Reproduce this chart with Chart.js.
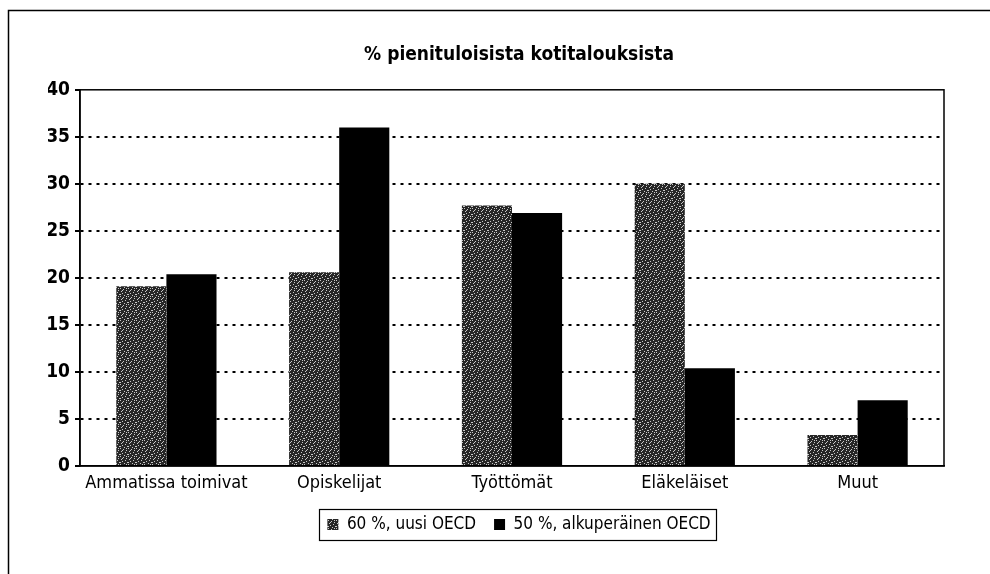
<!DOCTYPE html>
<html>
<head>
<meta charset="utf-8">
<script src="https://cdn.jsdelivr.net/npm/chart.js@4/dist/chart.umd.min.js"></script>
<style>
html,body{margin:0;padding:0;background:#fff;}
#wrap{width:990px;height:574px;position:relative;}
</style>
</head>
<body>
<div id="wrap"><canvas id="c" width="990" height="574"></canvas></div>
<script>
const categories = ["Ammatissa toimivat", "Opiskelijat", "Työttömät", "Eläkeläiset", "Muut"];
const seriesNames = ["60 %, uusi OECD", "50 %, alkuperäinen OECD"];
const valuesNew = [19.1, 20.6, 27.7, 30.0, 3.3];
const valuesOrig = [20.4, 36.0, 26.9, 10.4, 7.0];
const yTicks = [0, 5, 10, 15, 20, 25, 30, 35, 40];
const titleText = "% pienituloisista kotitalouksista";

const FONT = '"Liberation Sans Narrow", "DejaVu Sans Condensed", "Liberation Sans", sans-serif';

// deterministic speckle pattern for the grey series
function makePattern() {
  const t = document.createElement('canvas');
  t.width = 8; t.height = 8;
  const g = t.getContext('2d');
  g.fillStyle = '#262626';
  g.fillRect(0, 0, 8, 8);
  g.fillStyle = '#c8c8c8';
  const pts = [[0,0],[3,1],[6,2],[1,3],[5,4],[2,5],[7,6],[4,7],[6,0],[2,2],[0,6]];
  pts.forEach(p => g.fillRect(p[0], p[1], 1, 1));
  return g.createPattern(t, 'repeat');
}
const ctx0 = document.getElementById('c').getContext('2d');
const greyFill = makePattern();

const framePlugin = {
  id: 'frame',
  beforeDraw(chart) {
    const c = chart.ctx;
    c.save();
    c.strokeStyle = '#000';
    c.lineWidth = 1.5;
    c.beginPath();
    c.moveTo(8.5, 580);
    c.lineTo(8.5, 10.5);
    c.lineTo(995, 10.5);
    c.stroke();
    c.restore();
  },
  afterDatasetsDraw(chart) {
    const a = chart.chartArea;
    const c = chart.ctx;
    c.save();
    c.strokeStyle = '#000';
    c.lineWidth = 1.5;
    c.setLineDash([]);
    c.strokeRect(a.left, a.top, a.right - a.left, a.bottom - a.top);
    c.restore();
  },
  afterDraw(chart) {
    const lg = chart.legend;
    if (!lg || !lg.legendHitBoxes || !lg.legendHitBoxes.length) return;
    let l = Infinity, r = -Infinity, t = Infinity, b = -Infinity;
    lg.legendHitBoxes.forEach(h => {
      l = Math.min(l, h.left); r = Math.max(r, h.left + h.width);
      t = Math.min(t, h.top); b = Math.max(b, h.top + h.height);
    });
    const c = chart.ctx;
    c.save();
    c.strokeStyle = '#000';
    c.lineWidth = 1.2;
    c.strokeRect(Math.round(l - 8) + 0.5, Math.round(t - 7) + 0.5, Math.round(r - l + 14), Math.round(b - t + 14));
    c.restore();
  }
};

new Chart(ctx0, {
  type: 'bar',
  data: {
    labels: categories,
    datasets: [
      { label: seriesNames[0], data: valuesNew, backgroundColor: greyFill, borderWidth: 0 },
      { label: seriesNames[1], data: valuesOrig, backgroundColor: '#000', borderWidth: 0 }
    ]
  },
  options: {
    responsive: false,
    animation: false,
    events: [],
    devicePixelRatio: 1,
    layout: { padding: { top: 10, left: 48, right: 0, bottom: 31 } },
    datasets: { bar: { categoryPercentage: 0.58, barPercentage: 1.0 } },
    plugins: {
      tooltip: { enabled: false },
      title: {
        display: true,
        text: titleText,
        color: '#000',
        font: { family: FONT, size: 19, weight: 'bold' },
        padding: { top: 34, bottom: 23 }
      },
      legend: {
        position: 'bottom',
        labels: {
          color: '#000',
          font: { family: FONT, size: 17 },
          boxWidth: 11,
          boxHeight: 11,
          padding: 18
        }
      }
    },
    scales: {
      x: {
        grid: { display: false, drawTicks: false, tickLength: 0 },
        border: { display: true, color: '#000', width: 1.5 },
        ticks: { color: '#000', font: { family: FONT, size: 18 }, padding: 7, maxRotation: 0 },
        afterFit(s) { s.height = 32; }
      },
      y: {
        min: 0, max: 40,
        afterBuildTicks(s) { s.ticks = yTicks.map(v => ({ value: v })); },
        border: { display: true, color: '#000', width: 1.5, dash: [3, 5] },
        grid: {
          color: c => (c.tick && (c.tick.value === 0 || c.tick.value === 40)) ? 'rgba(0,0,0,0)' : '#000',
          tickColor: '#000',
          lineWidth: 2,
          tickBorderDash: [],
          tickLength: 5,
          drawTicks: true
        },
        ticks: { color: '#000', font: { family: FONT, size: 19, weight: 'bold' }, padding: 5 },
        afterFit(s) { s.width = 32; }
      },
      yR: {
        position: 'right',
        display: true,
        grid: { display: false, drawTicks: false },
        border: { display: false },
        ticks: { display: false },
        afterFit(s) { s.width = 46; }
      }
    }
  },
  plugins: [framePlugin]
});
</script>
</body>
</html>
